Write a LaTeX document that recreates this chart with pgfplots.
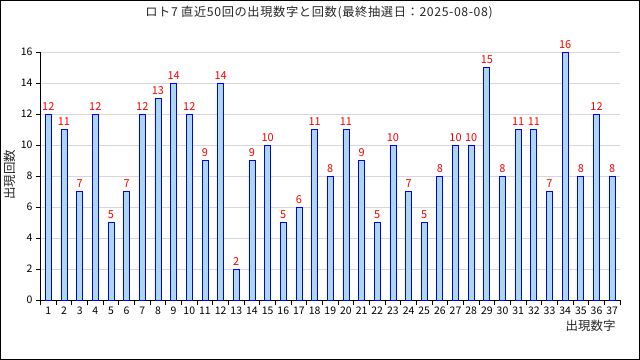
\documentclass[border=0pt]{standalone}
\usepackage{fontspec}
\setmainfont{Noto Sans CJK JP}
\newfontfamily\titlefont[LetterSpace=5]{Noto Sans CJK JP}
\usepackage{pgfplots}
\pgfplotsset{compat=1.18}
\definecolor{barfill}{RGB}{173,216,230}
\definecolor{gridc}{RGB}{215,215,215}
\begin{document}
\begin{tikzpicture}
\draw[black, line width=1bp] (0.5bp,0.5bp) rectangle (639.5bp,359.5bp);
\node[font=\titlefont\fontsize{12.3}{14}\selectfont, color=black!85] at (319bp,347bp) {ロト7 直近50回の出現数字と回数(最終抽選日：2025-08-08)};
\node[font=\fontsize{12.5}{14}\selectfont, rotate=90, color=black!85] at (10bp,185bp) {出現回数};
\node[font=\fontsize{12.5}{14}\selectfont, anchor=east, color=black!85] at (619bp,34bp) {出現数字};
\begin{axis}[
  at={(40.5bp,60bp)}, anchor=south west,
  scale only axis, width=579.5bp, height=248bp,
  xmin=0.5, xmax=37.5, ymin=0, ymax=16,
  axis lines=left, axis line style={-, black, line width=0.8bp},
  xtick={0.5,1.5,...,37.5},
  x tick label as interval,
  xticklabels={1,2,3,4,5,6,7,8,9,10,11,12,13,14,15,16,17,18,19,20,21,22,23,24,25,26,27,28,29,30,31,32,33,34,35,36,37},
  ytick={0,2,...,16},
  tick align=outside, major tick length=4.5bp,
  tick style={black, line width=0.8bp},
  ymajorgrids, grid style={gridc, line width=0.8bp},
  tick label style={font=\fontsize{10.5}{12}\selectfont},
  /pgf/number format/assume math mode=true,
  xticklabel style={yshift=1bp},
  ybar, bar width=6bp,
  nodes near coords,
  every node near coord/.append style={red, font=\fontsize{11}{13}\selectfont, yshift=0bp},
  clip=false,
]
\addplot[draw=blue, fill=barfill, line width=0.8bp] coordinates {
(1,12) (2,11) (3,7) (4,12) (5,5) (6,7) (7,12) (8,13) (9,14) (10,12)
(11,9) (12,14) (13,2) (14,9) (15,10) (16,5) (17,6) (18,11) (19,8) (20,11)
(21,9) (22,5) (23,10) (24,7) (25,5) (26,8) (27,10) (28,10) (29,15) (30,8)
(31,11) (32,11) (33,7) (34,16) (35,8) (36,12) (37,8)};
\end{axis}
\end{tikzpicture}
\end{document}
